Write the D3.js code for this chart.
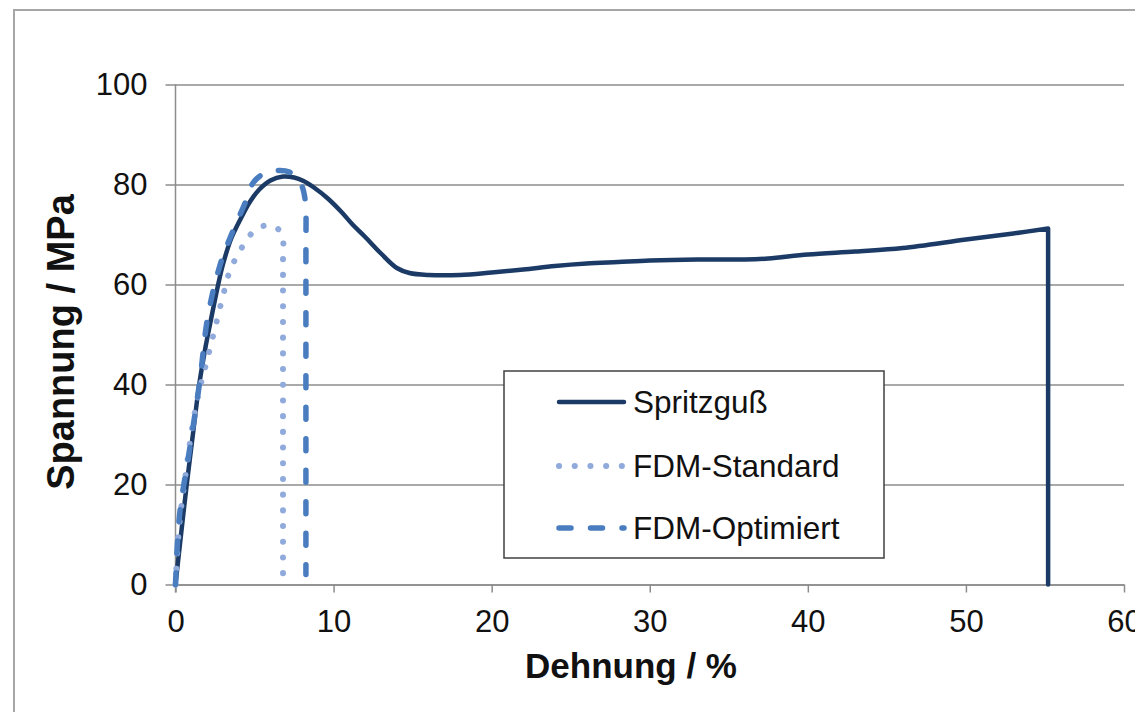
<!DOCTYPE html>
<html>
<head>
<meta charset="utf-8">
<script src="https://cdn.jsdelivr.net/npm/d3@7"></script>
<style>
  html, body { margin: 0; padding: 0; background: #fff; }
  svg { display: block; font-family: "Liberation Sans", Arial, sans-serif; }
</style>
</head>
<body>
<svg id="chart" width="1135" height="712"></svg>
<script>
// Stress-strain curves: injection moulded vs. FDM printed specimens
const seriesNames = ["Spritzguß", "FDM-Standard", "FDM-Optimiert"];

const spritzStrain = [0, 0.35, 0.7, 1.1, 1.5, 1.9, 2.2, 2.7, 3.0, 3.5, 4.1, 4.7, 5.3, 6.0, 6.8, 7.5, 8.1, 8.8, 9.6, 10.5, 11.2, 12, 13, 14, 14.8, 16, 18, 20, 22, 24, 26, 28, 30, 33, 36, 37.5, 40, 43, 46, 50, 53, 55.2, 55.2];
const spritzStress = [0, 10, 19.7, 30, 40, 47.5, 52.3, 60, 64, 69, 73, 76.5, 79, 80.8, 81.6, 81.4, 80.7, 79.3, 77.3, 74.5, 72, 69.5, 66.2, 63.3, 62.3, 61.9, 61.9, 62.4, 63, 63.7, 64.2, 64.5, 64.8, 65, 65, 65.2, 66, 66.6, 67.3, 69, 70.2, 71.2, 0];

const stdStrain = [0, 0.25, 0.68, 1.1, 1.52, 1.95, 2.48, 3.0, 3.5, 4.0, 4.5, 5.1, 5.7, 6.3, 6.75, 6.8, 6.8];
const stdStress = [0, 12.3, 23, 32.3, 39, 44.3, 51, 57.7, 63.3, 66.2, 69, 71, 71.8, 71.5, 70, 66, 0];

const optStrain = [0, 0.25, 0.89, 1.52, 2.05, 2.8, 3.5, 4.4, 4.9, 5.6, 6.4, 7.2, 7.9, 8.2, 8.25, 8.25];
const optStress = [0, 13.7, 27, 40.3, 53.7, 63.7, 69.7, 76.3, 80.3, 82.2, 82.8, 82.5, 80.3, 77, 70, 2];

const xTicks = [0, 10, 20, 30, 40, 50, 60];
const yTicks = [0, 20, 40, 60, 80, 100];

const xTitle = "Dehnung / %";
const yTitle = "Spannung / MPa";

const svg = d3.select("#chart");

// outer chart frame
svg.append("rect")
  .attr("x", 14).attr("y", 10).attr("width", 1140).attr("height", 720)
  .attr("fill", "#fff").attr("stroke", "#a6a6a6").attr("stroke-width", 2);

const x = d3.scaleLinear().domain([0, 60]).range([175.5, 1124]);
const y = d3.scaleLinear().domain([0, 100]).range([584.5, 84.5]);

const gridColor = "#8c8c8c";

// horizontal grid lines with tick stubs
const yAxis = d3.axisLeft(y).tickValues(yTicks).tickSize(-(x(60) - x(0))).tickSizeOuter(0).tickPadding(28);
const gy = svg.append("g").attr("transform", `translate(${x(0)},0)`).call(yAxis);
gy.select(".domain").remove();
gy.selectAll(".tick line").attr("x1", -10).attr("stroke", gridColor).attr("stroke-width", 1.5);
gy.selectAll(".tick text").attr("font-size", 31).attr("fill", "#111").attr("font-family", "Liberation Sans, Arial, sans-serif");

// x axis
const xAxis = d3.axisBottom(x).tickValues(xTicks).tickSize(8).tickSizeOuter(0).tickPadding(17);
const gx = svg.append("g").attr("transform", `translate(0,${y(0)})`).call(xAxis);
gx.select(".domain").attr("stroke", gridColor).attr("stroke-width", 1.5);
gx.selectAll(".tick line").attr("stroke", gridColor).attr("stroke-width", 1.5);
gx.selectAll(".tick text").attr("font-size", 31).attr("fill", "#111").attr("font-family", "Liberation Sans, Arial, sans-serif");

// vertical axis line
svg.append("line")
  .attr("x1", x(0)).attr("x2", x(0)).attr("y1", y(100)).attr("y2", y(0) + 8)
  .attr("stroke", gridColor).attr("stroke-width", 1.5);

// axis titles
svg.append("text")
  .attr("x", 631).attr("y", 678).attr("text-anchor", "middle")
  .attr("font-size", 35).attr("font-weight", "bold").attr("fill", "#111")
  .text(xTitle);
svg.append("text")
  .attr("transform", "translate(74,342) rotate(-90)").attr("text-anchor", "middle")
  .attr("font-size", 38).attr("font-weight", "bold").attr("fill", "#111")
  .text(yTitle);

const styles = [
  { color: "#1b3a66", width: 4.5, dash: null, cap: "round" },
  { color: "#8faadb", width: 6, dash: "0.1 15.6", cap: "round" },
  { color: "#4a7dc0", width: 5.5, dash: "12 19.5", cap: "round" }
];

const series = [
  spritzStrain.map((v, i) => [v, spritzStress[i]]),
  stdStrain.map((v, i) => [v, stdStress[i]]),
  optStrain.map((v, i) => [v, optStress[i]])
];

// smooth loading curve, straight drop at rupture (last point)
const smooth = d3.line()
  .x(d => x(d[0])).y(d => y(d[1]))
  .curve(d3.curveCatmullRom.alpha(0.5));
const pathFor = pts => {
  const last = pts[pts.length - 1];
  return smooth(pts.slice(0, -1)) + `L${x(last[0])},${y(last[1])}`;
};

[0, 1, 2].forEach(i => {
  const s = styles[i];
  svg.append("path")
    .attr("d", pathFor(series[i]))
    .attr("fill", "none")
    .attr("stroke", s.color)
    .attr("stroke-width", s.width)
    .attr("stroke-linecap", s.cap)
    .attr("stroke-linejoin", "round")
    .attr("stroke-dasharray", s.dash);
});

// legend
const lg = svg.append("g");
lg.append("rect")
  .attr("x", 504).attr("y", 371).attr("width", 380).attr("height", 187)
  .attr("fill", "#fff").attr("stroke", "#404040").attr("stroke-width", 1.5);
const rowY = [402, 466, 528];
seriesNames.forEach((name, i) => {
  const s = styles[i];
  lg.append("line")
    .attr("x1", 559).attr("x2", 624).attr("y1", rowY[i]).attr("y2", rowY[i])
    .attr("stroke", s.color).attr("stroke-width", s.width)
    .attr("stroke-linecap", s.cap).attr("stroke-dasharray", s.dash);
  lg.append("text")
    .attr("x", 633).attr("y", rowY[i]).attr("dy", "0.36em")
    .attr("font-size", 31.5).attr("fill", "#111")
    .text(name);
});
</script>
</body>
</html>
